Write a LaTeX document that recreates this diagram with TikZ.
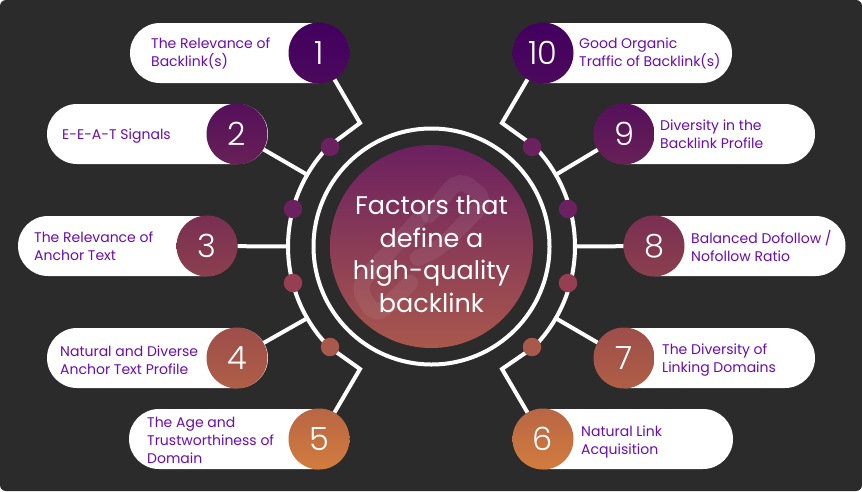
\documentclass[tikz,border=0pt]{standalone}
\usepackage{fontspec}
\setmainfont{Poppins}
\newfontfamily\lightfont{Poppins}[UprightFont=* Light]
\usepackage{tikz}
\usetikzlibrary{calc}
\definecolor{panel}{HTML}{2B2B2B}
\definecolor{labelink}{HTML}{6A0DAD}
\definecolor{shadeA}{HTML}{42005F}
\definecolor{shadeB}{HTML}{D27C3E}
\definecolor{dotA}{HTML}{6B2060}
\definecolor{dotB}{HTML}{963F52}
\definecolor{dotC}{HTML}{A9584C}

\begin{document}
\begin{tikzpicture}[x=1pt,y=-1pt,
                        pill/.style={rectangle, rounded corners=30pt, fill=white, minimum width=220pt, minimum height=60pt, inner sep=0pt},
                        label/.style={font=\fontsize{14}{18}\selectfont, text=labelink, align=left, anchor=west, inner sep=0pt},
                        num/.style={circle, minimum size=61pt, inner sep=0pt, text=white, font=\lightfont\fontsize{32}{32}\selectfont},
                        wire/.style={draw=white, line width=4pt, line join=miter},
                        dot/.style={circle, minimum size=18.5pt, inner sep=0pt}]

        \useasboundingbox (0,0) rectangle (862,491);
        \fill[panel, rounded corners=6pt] (0,0) rectangle (862,491);
        \coordinate (hub) at (431.5,246.5);

        % link icon behind the title
        \node[circle, minimum size=203pt, inner sep=0pt, top color=dotA, bottom color=dotC] (disc) at (hub) {};
        \begin{scope}[white, opacity=.07, line width=16pt, rounded corners=13pt, line cap=round]
          \draw (429,215) -- (459,178) -- (487,200) -- (440,248) -- (418,258);
          \draw (420,218) -- (357,287) -- (376,317) -- (410,283);
        \end{scope}
        \node[text=white, align=center, font=\fontsize{25.5}{32.5}\selectfont] (title) at (431.5,254) {Factors that\\define a\\high-quality\\backlink};
        \draw[draw=white, line width=4pt] (hub) circle (118);

        % pills, left side
        \node[pill, minimum width=219pt] (p1) at (239.5,53) {};
        \node[pill, minimum width=221pt] (p2) at (157.5,134) {};
        \node[pill, minimum width=219pt] (p3) at (127.5,246) {};
        \node[pill, minimum width=221pt] (p4) at (157.5,358) {};
        \node[pill] (p5) at (239,439) {};
        % pills, right side
        \node[pill, minimum width=219pt] (p10) at (622.5,53) {};
        \node[pill, minimum width=221pt] (p9) at (704.5,134) {};
        \node[pill, minimum width=221pt] (p8) at (735,246) {};
        \node[pill, minimum width=221pt] (p7) at (704.5,358) {};
        \node[pill] (p6) at (623,439) {};

        % number circles
        \node[num, top color=shadeA, bottom color=shadeA!93!shadeB] (n1) at (319,53) {1};
        \node[num, top color=shadeA!87!shadeB, bottom color=shadeA!74!shadeB] (n2) at (237,134) {2};
        \node[num, top color=shadeA!62!shadeB, bottom color=shadeA!49!shadeB] (n3) at (207,246) {3};
        \node[num, top color=shadeA!37!shadeB, bottom color=shadeA!24!shadeB] (n4) at (237,358) {4};
        \node[num, top color=shadeA!18!shadeB, bottom color=shadeB] (n5) at (319,439) {5};
        \node[num, top color=shadeA, bottom color=shadeA!93!shadeB] (n10) at (543,53) {10};
        \node[num, top color=shadeA!87!shadeB, bottom color=shadeA!74!shadeB] (n9) at (624,134) {9};
        \node[num, top color=shadeA!62!shadeB, bottom color=shadeA!49!shadeB] (n8) at (654,246) {8};
        \node[num, top color=shadeA!37!shadeB, bottom color=shadeA!24!shadeB] (n7) at (624,358) {7};
        \node[num, top color=shadeA!18!shadeB, bottom color=shadeB] (n6) at (543,439) {6};

        % labels
        \node[label] (t1) at (151,53) {The Relevance of\\Backlink(s)};
        \node[label] (t2) at (62,136) {E-E-A-T Signals};
        \node[label] (t3) at (34,246) {The Relevance of\\Anchor Text};
        \node[label] (t4) at (60,360) {Natural and Diverse\\Anchor Text Profile};
        \node[label] (t5) at (147,440) {The Age and\\Trustworthiness of\\Domain};
        \node[label] (t10) at (579,53) {Good Organic\\Traffic of Backlink(s)};
        \node[label] (t9) at (660,134) {Diversity in the\\Backlink Profile};
        \node[label] (t8) at (691,245.5) {Balanced Dofollow /\\Nofollow Ratio};
        \node[label] (t7) at (662,360) {The Diversity of\\Linking Domains};
        \node[label] (t6) at (581,442) {Natural Link\\Acquisition};

        % joints on the outer ring
        \coordinate (k1) at (360,123);
        \coordinate (k5) at (360,369);
        \coordinate (k10) at (502,123);
        \coordinate (k6) at (502,369);
        \coordinate (j2) at ($(hub)+(-150:143.5)$);
        \coordinate (j3) at ($(hub)+(-180:143.5)$);
        \coordinate (j4) at ($(hub)+(-210:143.5)$);
        \coordinate (j9) at ($(hub)+(-30:143.5)$);
        \coordinate (j8) at ($(hub)+(0:143.5)$);
        \coordinate (j7) at ($(hub)+(30:143.5)$);
        \coordinate (a1) at ($(hub)+(-135.5:143.5)$);
        \coordinate (a5) at ($(hub)+(-224.5:143.5)$);
        \coordinate (a10) at ($(hub)+(-44.5:143.5)$);
        \coordinate (a6) at ($(hub)+(44.5:143.5)$);

        % rings and connectors
        \draw[wire] (n1) -- (k1) -- (a1) arc[start angle=-135.5, end angle=-224.5, radius=143.5] -- (k5) -- (n5);
        \draw[wire] (n10) -- (k10) -- (a10) arc[start angle=-44.5, end angle=44.5, radius=143.5] -- (k6) -- (n6);
        \draw[wire] (n2) -- (j2);
        \draw[wire] (n3) -- (j3);
        \draw[wire] (n4) -- (j4);
        \draw[wire] (n9) -- (j9);
        \draw[wire] (n8) -- (j8);
        \draw[wire] (n7) -- (j7);

        % dots on the ring
        \node[dot, fill=dotA] (d1) at (330,147) {};
        \node[dot, fill=dotA] (d2) at (293,209) {};
        \node[dot, fill=dotB] (d3) at (293,283) {};
        \node[dot, fill=dotC] (d4) at (330,347) {};
        \node[dot, fill=dotA] (d5) at (532,147) {};
        \node[dot, fill=dotA] (d6) at (568,209) {};
        \node[dot, fill=dotB] (d7) at (568,283) {};
        \node[dot, fill=dotC] (d8) at (532,347) {};
    \end{tikzpicture}
\end{document}
